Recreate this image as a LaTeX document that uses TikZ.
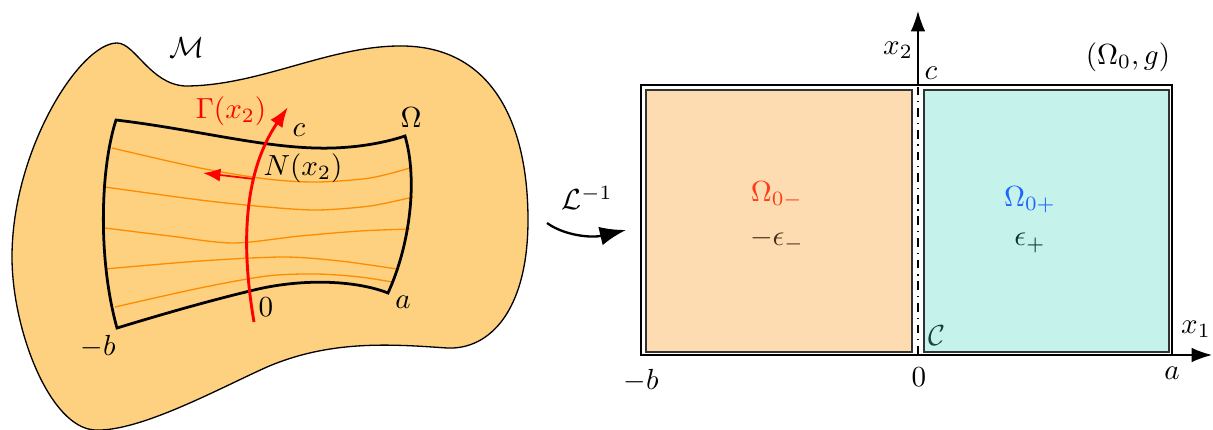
\documentclass[tikz,border=0pt]{standalone}
\usepackage{amsmath,amssymb}
\usepackage{xcolor}
\usepackage{tikz}
\usetikzlibrary{arrows.meta,positioning,calc}
\definecolor{mfdfill}{RGB}{253,209,127}
\definecolor{leftfill}{RGB}{253,220,178}
\definecolor{rightfill}{RGB}{198,242,236}
\definecolor{fibreorange}{RGB}{255,140,0}
\definecolor{omblue}{RGB}{30,100,255}
\definecolor{omred}{RGB}{255,60,20}
\definecolor{darkteal}{RGB}{20,70,65}
\definecolor{darkbrown}{RGB}{70,45,25}
\tikzset{
  lbl/.style={inner sep=1pt},
  fibre/.style={draw=fibreorange, line width=0.45pt},
  quadedge/.style={line width=0.95pt, black},
  redarrow/.style={-{Latex[length=7pt,width=5pt]}, red, line width=1pt},
  normalarrow/.style={-{Latex[length=6pt,width=4.5pt]}, red, line width=0.6pt},
  axis/.style={-{Latex[length=7pt,width=5pt]}, line width=0.45pt},
  halfbox/.style={draw=black!80, line width=0.5pt},
  maparrow/.style={-{Latex[length=9pt,width=6.5pt]}, line width=0.8pt},
}

\begin{document}
\begin{tikzpicture}[x=0.0121cm, y=-0.0121cm]
  \useasboundingbox (0,0) rectangle (1213,430);

  % the manifold
  \draw[fill=mfdfill, line width=0.45pt]
    (117,43) .. controls (135,43) and (150,84) .. (185,86)
             .. controls (260,86) and (330,45) .. (403,46)
             .. controls (490,47) and (528,120) .. (528,220)
             .. controls (528,310) and (490,350) .. (447,348)
             .. controls (390,344) and (330,340) .. (267,367)
             .. controls (220,388) and (140,432) .. (95,430)
             .. controls (50,428) and (12,330) .. (12,257)
             .. controls (12,150) and (80,43) .. cycle;
  \node[lbl] (mfd) at (187,48) {$\mathcal{M}$};

  % the domain Omega
  \coordinate (TL) at (116,120);
  \coordinate (TR) at (405,136);
  \coordinate (BR) at (388,293);
  \coordinate (BL) at (117,328);

  \draw[fibre] plot[smooth] coordinates {(112,148) (200,168) (267,179) (317,182) (370,178) (410,168)};
  \draw[fibre] plot[smooth] coordinates {(105,187) (200,200) (267,207) (317,210) (370,206) (413,197)};
  \draw[fibre] plot[smooth] coordinates {(105,228) (170,236) (233,243) (300,236) (360,231) (410,229)};
  \draw[fibre] plot[smooth] coordinates {(105,269) (200,261) (283,257) (340,261) (397,269)};
  \draw[fibre] plot[smooth] coordinates {(115,307) (200,288) (267,276) (317,274) (360,277) (392,282)};

  \draw[quadedge, line join=miter]
    (TL) .. controls (200,130) and (270,150) .. (333,148)
         .. controls (365,147) and (390,141) .. (TR)
         .. controls (418,180) and (410,245) .. (BR)
         .. controls (355,280) and (300,278) .. (250,291)
         .. controls (200,303) and (150,318) .. (BL)
         .. controls (98,260) and (100,170) .. cycle;

  \coordinate (G0) at (254,322);
  \coordinate (G1) at (288,107);
  \draw[redarrow] (G0) .. controls (240,240) and (245,170) .. (G1);
  \coordinate (N0) at (254,179);
  \coordinate (N1) at (203,173);
  \draw[normalarrow] (N0) -- (N1);

  \node[lbl, red] (gam) at (231,111) {$\Gamma(x_2)$};
  \node[lbl] (ctop) at (299,130) {$c$};
  \node[lbl] (om) at (411,118) {$\Omega$};
  \node[lbl] (nlab) at (303,168) {$N(x_2)$};
  \node[lbl] (zero) at (266,307) {$0$};
  \node[lbl] (alab) at (403,302) {$a$};
  \node[lbl] (blab) at (98,347) {$-b$};

  % the map
  \node[lbl] (map) at (587,198) {$\mathcal{L}^{-1}$};
  \coordinate (M0) at (547,223);
  \coordinate (M1) at (626,230);
  \draw[maparrow] (M0) .. controls (565,236) and (592,238) .. (M1);

  % the reference rectangle
  \draw[line width=0.45pt] (641,85) rectangle (1172,355);
  \draw[halfbox, fill=leftfill] (646,90) rectangle (912,352);
  \draw[halfbox, fill=rightfill] (924,90) rectangle (1169,352);

  \coordinate (O) at (918,355);
  \coordinate (X1) at (1212,355);
  \coordinate (X2) at (918,11);
  \coordinate (Ctop) at (918,85);
  \draw[axis] (641,355) -- (X1);
  \draw[axis] (Ctop) -- (X2);
  \draw[line width=0.45pt, dash dot] (O) -- (Ctop);

  \node[lbl] (x2lab) at (898,50) {$x_2$};
  \node[lbl] (x1lab) at (1196,329) {$x_1$};
  \node[lbl] (cr) at (931,73) {$c$};
  \node[lbl] (og) at (1128,57) {$(\Omega_0,g)$};
  \node[lbl] (br) at (641,381) {$-b$};
  \node[lbl] (zr) at (919,377) {$0$};
  \node[lbl] (ar) at (1172,373) {$a$};
  \node[lbl, darkteal] (curve) at (937,336) {$\mathcal{C}$};

  \node[lbl, omred] (omminus) at (777,195) {$\Omega_{0-}$};
  \node[lbl, darkbrown] (epsminus) at (777,240) {$-\epsilon_{-}$};
  \node[lbl, omblue] (omplus) at (1030,200) {$\Omega_{0+}$};
  \node[lbl, darkteal!70!black] (epsplus) at (1030,243) {$\epsilon_{+}$};
\end{tikzpicture}
\end{document}
